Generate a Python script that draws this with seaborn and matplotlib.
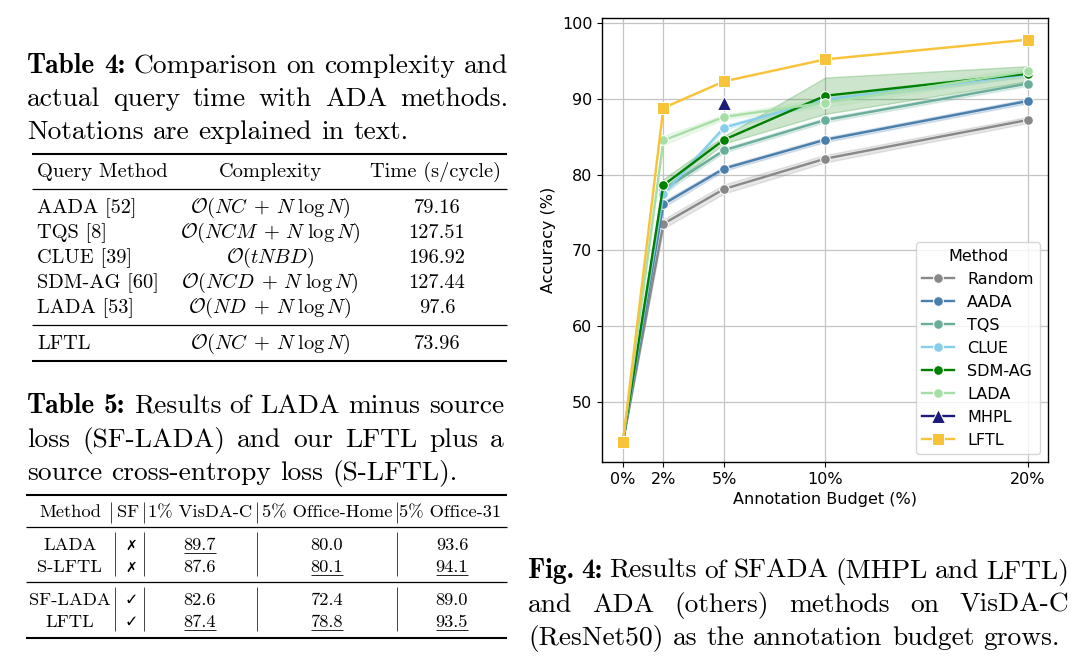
import matplotlib
matplotlib.use("Agg")
import matplotlib.pyplot as plt
from matplotlib.lines import Line2D
from matplotlib.transforms import Affine2D
import seaborn as sns
import pandas as pd
import numpy as np

# ---------------- data ----------------
budgets = [0, 2, 5, 10, 20]
budget_labels = ["0%", "2%", "5%", "10%", "20%"]
methods = ["Random", "AADA", "TQS", "CLUE", "SDM-AG", "LADA", "MHPL", "LFTL"]

random_acc = [44.7, 73.5, 78.1, 82.1, 87.2]
aada_acc = [44.7, 76.1, 80.8, 84.6, 89.7]
tqs_acc = [44.7, 78.0, 83.2, 87.2, 92.0]
clue_acc = [44.7, 77.4, 86.2, 89.9, 93.2]
sdm_acc = [44.7, 78.6, 84.6, 90.4, 93.3]
lada_acc = [44.7, 84.5, 87.6, 89.5, 93.6]
mhpl_budget = [5]
mhpl_acc = [89.4]
lftl_acc = [44.7, 88.8, 92.3, 95.2, 97.8]

# spread (half-range over runs) per budget
random_spread = [0.0, 0.6, 0.6, 0.5, 0.4]
aada_spread = [0.0, 0.4, 0.3, 0.3, 0.3]
tqs_spread = [0.0, 0.4, 0.3, 0.3, 0.3]
clue_spread = [0.0, 0.4, 0.3, 0.3, 0.3]
sdm_spread = [0.0, 0.8, 0.5, 2.4, 1.0]
lada_spread = [0.0, 0.6, 0.3, 0.6, 0.5]
mhpl_spread = [0.0]
lftl_spread = [0.0, 0.0, 0.0, 0.0, 0.0]

# Table 4
t4_caption = [["Table", "4:", "Comparison", "on", "complexity", "and"],
              ["actual", "query", "time", "with", "ADA", "methods."],
              ["Notations", "are", "explained", "in", "text."]]
t4_header = ["Query Method", "Complexity", "Time (s/cycle)"]
t4_methods = ["AADA [52]", "TQS [8]", "CLUE [39]", "SDM-AG [60]", "LADA [53]"]
t4_complexity = [r"$\mathcal{O}(NC\;+\,N\;\log N)$", r"$\mathcal{O}(NCM\;+\,N\;\log N)$",
                 r"$\mathcal{O}(tNBD)$", r"$\mathcal{O}(NCD\;+\,N\;\log N)$",
                 r"$\mathcal{O}(ND\;+\,N\;\log N)$"]
t4_time = ["79.16", "127.51", "196.92", "127.44", "97.6"]
t4_ours = ["LFTL", r"$\mathcal{O}(NC\;+\,N\;\log N)$", "73.96"]

# Table 5
t5_caption = [["Table", "5:", "Results", "of", "LADA", "minus", "source"],
              ["loss", "(SF-LADA)", "and", "our", "LFTL", "plus", "a"],
              ["source", "cross-entropy", "loss", "(S-LFTL)."]]
t5_header = ["Method", "SF", "1% VisDA-C", "5% Office-Home", "5% Office-31"]
t5_methods = ["LADA", "S-LFTL", "SF-LADA", "LFTL"]
t5_sf = ["\u2717", "\u2717", "\u2713", "\u2713"]
t5_visda = ["89.7", "87.6", "82.6", "87.4"]
t5_officehome = ["80.0", "80.1", "72.4", "78.8"]
t5_office31 = ["93.6", "94.1", "89.0", "93.5"]
t5_best = [[True, False, False], [False, True, True],
           [False, False, False], [True, True, True]]

fig_caption = [["Fig.", "4:", "Results", "of", "SFADA", "(MHPL", "and", "LFTL)"],
               ["and", "ADA", "(others)", "methods", "on", "VisDA-C"],
               ["(ResNet50)", "as", "the", "annotation", "budget", "grows."]]

# ---------------- figure ----------------
W, H = 1080, 658
plt.rcParams["mathtext.fontset"] = "cm"
fig = plt.figure(figsize=(W / 100, H / 100), dpi=100)
px = Affine2D().scale(1 / W, -1 / H).translate(0, 1) + fig.transFigure
renderer = fig.canvas.get_renderer()

SERIF = "cmr10"
BOLD = "cmb10"


def text_width(s, size, family):
    t = fig.text(0, 0, s, fontsize=size, family=family)
    w = t.get_window_extent(renderer).width
    t.remove()
    return w


def put(x, y, s, size, family=SERIF, ha="left", **kw):
    return fig.text(x, y, s, fontsize=size, family=family, ha=ha,
                    va="baseline", transform=px, **kw)


def paragraph_line(words, x0, x1, y, size, nbold=0, justify=True):
    fams = [BOLD if i < nbold else SERIF for i in range(len(words))]
    widths = [text_width(w, size, f) for w, f in zip(words, fams)]
    if justify and len(words) > 1:
        gap = (x1 - x0 - sum(widths)) / (len(words) - 1)
    else:
        gap = 0.333 * size * 100 / 72
    x = x0
    for w, f, wd in zip(words, fams, widths):
        put(x, y, w, size, f)
        x += wd + gap


def hrule(x0, x1, y, lw):
    fig.add_artist(Line2D([x0, x1], [y, y], transform=px, color="black",
                          lw=lw, solid_capstyle="butt"))


def vrule(x, y0, y1, lw=0.7):
    fig.add_artist(Line2D([x, x], [y0, y1], transform=px, color="#444444",
                          lw=lw, solid_capstyle="butt"))


def underlined(x, y, s, size):
    put(x, y, s, size, ha="center")
    w = text_width(s, size, SERIF)
    hrule(x - w / 2, x + w / 2, y + 3, 0.6)


CAP = 19.8
# ---- Table 4 caption
for i, (line, yb) in enumerate(zip(t4_caption, [73, 106, 139])):
    paragraph_line(line, 27, 508, yb, CAP, nbold=2 if i == 0 else 0, justify=i < 2)

# ---- Table 4 body
T4 = 14.7
hrule(32, 507, 153.5, 1.5)
put(37, 177, t4_header[0], T4)
put(270, 177, t4_header[1], T4, ha="center")
put(436, 177, t4_header[2], T4, ha="center")
hrule(32, 507, 189, 0.9)
for i, yb in enumerate([213, 238, 263, 288, 313]):
    put(37, yb, t4_methods[i], T4)
    put(270, yb, t4_complexity[i], T4, ha="center")
    put(437, yb, t4_time[i], T4, ha="center")
hrule(32, 507, 325, 0.9)
put(37, 349, t4_ours[0], T4)
put(270, 349, t4_ours[1], T4, ha="center")
put(437, 349, t4_ours[2], T4, ha="center")
hrule(32, 507, 361, 1.5)

# ---- Table 5 caption
for i, (line, yb) in enumerate(zip(t5_caption, [413, 447, 480])):
    paragraph_line(line, 27, 504, yb, CAP, nbold=2 if i == 0 else 0, justify=i < 2)

# ---- Table 5 body
T5 = 13.3
hrule(26, 507, 495, 1.5)
col_x = [70, 128, 200, 327, 450]
for cx, h in zip(col_x, t5_header):
    put(cx, 517, h, T5, ha="center")
for bx in [111, 144, 257, 397]:
    vrule(bx, 502, 523)
hrule(26, 507, 527, 0.9)
hrule(26, 507, 582, 0.9)
hrule(26, 507, 637.5, 1.5)
for bx in [115, 144, 257, 397]:
    vrule(bx, 532, 576)
    vrule(bx, 587, 631)
for i, yb in enumerate([550, 572, 605, 627]):
    put(70, yb, t5_methods[i], T5, ha="center")
    put(131, yb, t5_sf[i], 10 if i < 2 else 11.5, family="DejaVu Sans", ha="center")
    for j, (vals, cx) in enumerate(zip([t5_visda, t5_officehome, t5_office31],
                                       [200, 327, 452])):
        if t5_best[i][j]:
            underlined(cx, yb, vals[i], T5)
        else:
            put(cx, yb, vals[i], T5, ha="center")

# ---- Figure caption
for i, (line, yb) in enumerate(zip(fig_caption, [578, 612, 645])):
    paragraph_line(line, 528, 1069, yb, CAP, nbold=2 if i == 0 else 0, justify=i < 2)

# ---- Chart
series = {
    "Random": (budgets, random_acc, random_spread),
    "AADA": (budgets, aada_acc, aada_spread),
    "TQS": (budgets, tqs_acc, tqs_spread),
    "CLUE": (budgets, clue_acc, clue_spread),
    "SDM-AG": (budgets, sdm_acc, sdm_spread),
    "LADA": (budgets, lada_acc, lada_spread),
    "MHPL": (mhpl_budget, mhpl_acc, mhpl_spread),
    "LFTL": (budgets, lftl_acc, lftl_spread),
}
rows = []
for m in methods:
    xs, ys, hs = series[m]
    for x, y, h in zip(xs, ys, hs):
        for k in (-1, 0, 1):
            rows.append({"Method": m, "budget": x, "acc": y + k * h})
df = pd.DataFrame(rows)

palette = {"Random": "#888888", "AADA": "#4a7eab", "TQS": "#69ad9b",
           "CLUE": "#87ceeb", "SDM-AG": "#008000", "LADA": "#a6dfa6",
           "MHPL": "#1c1c78", "LFTL": "#f8c339"}
markers = {m: "o" for m in methods}
markers["MHPL"] = "^"
markers["LFTL"] = "s"

FS = 11.5
ax = fig.add_axes([602 / W, 1 - 462 / H, 446 / W, 444 / H])
ax.set_axisbelow(True)
ax.grid(True, color="#c4c4c4", lw=0.9)
sns.lineplot(data=df, x="budget", y="acc", hue="Method", style="Method",
             hue_order=methods, style_order=methods, palette=palette,
             markers=markers, dashes=False, errorbar=("pi", 100),
             markersize=7, linewidth=1.7, ax=ax)
for ln in ax.lines:
    if ln.get_marker() == "^":
        ln.set_markersize(10)
    elif ln.get_marker() == "s":
        ln.set_markersize(8)
ax.set_xlim(-1.03, 21.0)
ax.set_ylim(42.1, 100.65)
ax.set_xticks(budgets)
ax.set_xticklabels(budget_labels)
ax.set_yticks([50, 60, 70, 80, 90, 100])
ax.tick_params(labelsize=FS, length=3.5, width=0.8, colors="black")
ax.set_xlabel("Annotation Budget (%)", fontsize=FS)
ax.set_ylabel("Accuracy (%)", fontsize=FS)
for s in ax.spines.values():
    s.set_color("black")
    s.set_linewidth(1.0)
leg = ax.legend(title="Method", loc="lower right", fontsize=FS, title_fontsize=FS)
for h in leg.legend_handles:
    if hasattr(h, "get_marker") and h.get_marker() == "^":
        h.set_markersize(10)
    elif hasattr(h, "get_marker") and h.get_marker() == "s":
        h.set_markersize(8)

fig.savefig("out.png", dpi=100)
